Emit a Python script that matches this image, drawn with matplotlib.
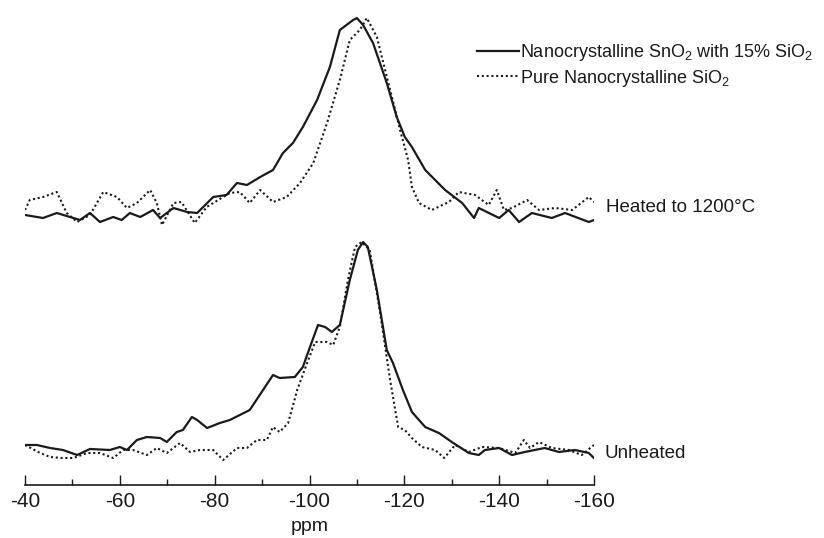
import matplotlib
matplotlib.use("Agg")
import matplotlib.pyplot as plt
from matplotlib.ticker import MultipleLocator

plt.rcParams['font.family'] = ['Liberation Sans', 'DejaVu Sans']
plt.rcParams['mathtext.fontset'] = 'custom'
plt.rcParams['mathtext.rm'] = 'Liberation Sans'
plt.rcParams['mathtext.default'] = 'regular'

# ---- data (chemical shift in ppm, intensity in arbitrary units) ----
heated_sn_ppm = [-40, -43.8, -46.7, -51.6, -53.7, -55.8, -58.6, -60.4, -62.1, -64.3, -67, -68.5, -71.3, -74.2,
                 -76.3, -79.7, -82.5, -84.7, -86.8, -89.6, -92.3, -94.4, -96.5, -98.6, -101.6, -104.3, -106.4,
                 -109.2, -110, -111.3, -113.4, -116.3, -118.4, -120.1, -121.6, -124.4, -128.6, -132.2, -134.7,
                 -135.7, -140, -142, -144.2, -146.9, -151.1, -153.9, -158.9, -160]
heated_sn_int = [2, -1, 4, -3, 4, -5, 0, -3, 4, 0, 7, -1, 9, 5, 4, 20, 22, 34, 32, 40, 47, 64, 74, 90, 117, 150,
                 187, 197, 199, 192, 174, 134, 100, 80, 70, 47, 27, 14, -1, 9, -1, 7, -5, 4, -1, 4, -5, -3]

heated_si_ppm = [-40, -41, -43.8, -46.7, -48.8, -51, -53.7, -56.5, -59.4, -61.5, -63.6, -66.4, -67.8, -68.9,
                 -71.3, -73, -75.8, -78.3, -83.2, -85.3, -87.4, -89.6, -92.3, -95.2, -98, -100.8, -103.7, -106.4,
                 -108.5, -110.6, -112.1, -114.2, -117, -119.1, -120.8, -121.6, -123.1, -125.8, -129.4, -131.5,
                 -134.9, -137.8, -139.5, -141, -142.7, -145.9, -148.4, -151.8, -155.4, -158.9, -160]
heated_si_int = [7, 17, 20, 25, 4, -5, 2, 25, 20, 9, 14, 27, 14, -8, 14, 15, -6, 10, 24, 25, 14, 27, 15, 20, 34,
                 54, 94, 137, 177, 187, 199, 180, 127, 87, 57, 30, 14, 7, 15, 25, 22, 12, 27, 7, 9, 17, 7, 9, 7,
                 20, 15]

unheated_sn_ppm = [-40, -42.5, -45.3, -48, -51, -53.7, -57.9, -60, -61.5, -63.6, -65.7, -68.5, -69.9, -72, -73.3,
                   -75.2, -76.3, -78.4, -81.1, -83.2, -85.3, -87.4, -90.2, -92.3, -93.7, -96.9, -98.6, -100.1,
                   -101.8, -103.3, -104.7, -106.4, -108.5, -110.2, -111.3, -112.3, -114.2, -116.3, -117.6, -119.7,
                   -121.6, -124.4, -127.3, -130, -133.6, -135.7, -137, -140, -142.7, -145.4, -149.6, -152.6, -156,
                   -158.9, -160.2]
unheated_sn_int = [5, 5, 2, 0, -5, 1, 0, 3, 0, 10, 13, 12, 8, 18, 20, 33, 30, 22, 27, 30, 35, 40, 60, 75, 72, 73,
                   83, 103, 125, 123, 118, 125, 170, 200, 208, 203, 160, 100, 87, 60, 38, 23, 17, 8, -3, -5, 0, 2,
                   -5, -2, 2, -2, 0, -3, -9]

unheated_si_ppm = [-40, -43.2, -45.3, -47.8, -50.2, -53.1, -55.8, -58.6, -60.7, -62.8, -65.7, -67.8, -69.9, -72.7,
                   -74.8, -76.9, -79.7, -81.8, -84.7, -86.8, -88.9, -91, -92.3, -93.7, -95.5, -97.4, -99.5, -101.2,
                   -103.7, -105, -106.4, -108.1, -109.6, -111, -112.7, -114.9, -117, -118.7, -120.1, -121.6, -123.7,
                   -126.5, -128.4, -130.7, -133.6, -136.4, -140, -143.4, -145.2, -146.5, -148.4, -151.1, -154.7,
                   -157.4, -160]
unheated_si_int = [5, -3, -7, -8, -8, -3, -3, -8, 0, 0, -5, 2, -3, 7, -2, 0, 0, -10, 2, 2, 10, 10, 23, 18, 27, 60,
                   87, 108, 108, 105, 123, 170, 203, 208, 200, 137, 70, 23, 20, 12, 3, 0, -8, 5, -2, 3, 2, -3, 10,
                   2, 8, 2, 0, -5, 5]

series_labels = ["Nanocrystalline SnO$_2$ with 15% SiO$_2$", "Pure Nanocrystalline SiO$_2$"]
trace_labels = ["Heated to 1200\u00b0C", "Unheated"]
x_ticks = [-40, -60, -80, -100, -120, -140, -160]

# ---- layout ----
HEATED_OFFSET = 268
UNHEATED_OFFSET = 35
color = '#1a1a1a'
DOTS = (0, (1, 1.3))
FS = 13.5

fig = plt.figure(figsize=(8.24, 5.38), dpi=100)
ax = fig.add_axes([25 / 824, 53 / 538, 569 / 824, 485 / 538])

l1, = ax.plot(heated_sn_ppm, [v + HEATED_OFFSET for v in heated_sn_int], '-', color=color, lw=1.6)
l2, = ax.plot(heated_si_ppm, [v + HEATED_OFFSET for v in heated_si_int], linestyle=DOTS, color=color, lw=1.5)
ax.plot(unheated_sn_ppm, [v + UNHEATED_OFFSET for v in unheated_sn_int], '-', color=color, lw=1.6)
ax.plot(unheated_si_ppm, [v + UNHEATED_OFFSET for v in unheated_si_int], linestyle=DOTS, color=color, lw=1.5)

ax.set_xlim(-40, -160)
ax.set_ylim(0, 485)
ax.set_xticks(x_ticks)
ax.set_xticklabels([str(t) for t in x_ticks])
ax.xaxis.set_minor_locator(MultipleLocator(10))
ax.tick_params(axis='x', which='major', direction='in', length=7, width=1, labelsize=15, colors=color, pad=5)
ax.tick_params(axis='x', which='minor', direction='in', length=4, width=1, colors=color)
ax.set_yticks([])
for s in ['left', 'right', 'top']:
    ax.spines[s].set_visible(False)
ax.spines['bottom'].set_linewidth(1.2)
ax.spines['bottom'].set_color(color)
ax.set_xlabel('ppm', fontsize=14, labelpad=5, color=color)

ax.text(-162.5, HEATED_OFFSET + 10, trace_labels[0], fontsize=FS, va='center', ha='left', color=color, clip_on=False)
ax.text(-162.2, UNHEATED_OFFSET - 3, trace_labels[1], fontsize=FS, va='center', ha='left', color=color, clip_on=False)

leg = ax.legend([l1, l2], series_labels, loc='upper left', bbox_to_anchor=(477 / 824, 1 - 42 / 538),
                bbox_transform=fig.transFigure, frameon=False, fontsize=13, handlelength=2.3,
                handletextpad=0.1, labelspacing=0.25, borderaxespad=0, borderpad=0)
for t in leg.get_texts():
    t.set_color(color)

fig.savefig('out.png', dpi=100)
